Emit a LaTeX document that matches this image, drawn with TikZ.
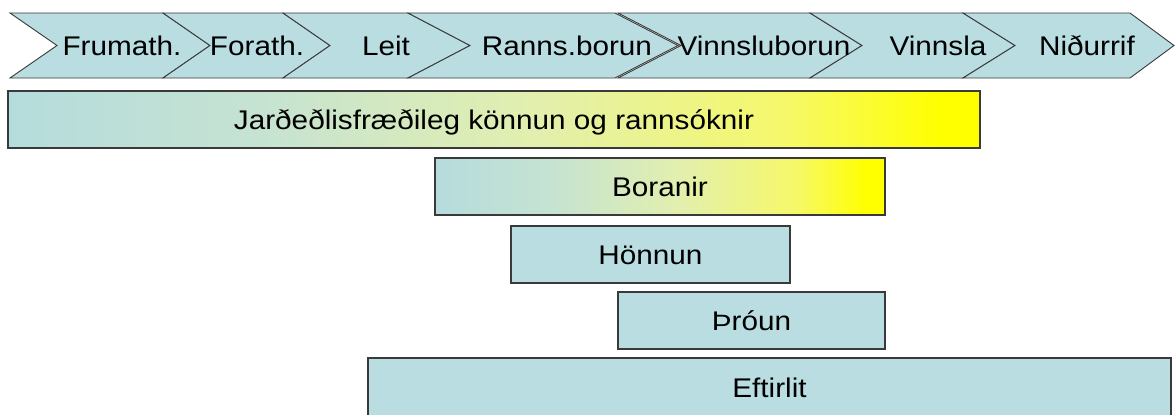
\documentclass[tikz,border=0pt]{standalone}
\usepackage{fontspec}
\setmainfont[FakeStretch=1.1]{Liberation Sans}
\definecolor{phase}{HTML}{B9DDE1}
\definecolor{edge}{HTML}{3A3A3A}
\definecolor{tealA}{HTML}{B5DCDC}
\definecolor{tealB}{HTML}{C6E3D2}
\definecolor{tealC}{HTML}{E2EFAE}
\definecolor{tealD}{HTML}{F6F86A}
\pgfdeclarehorizontalshading{tealyellow}{100bp}{color(0bp)=(tealA); color(25bp)=(tealA);
  color(38bp)=(tealB); color(52bp)=(tealC); color(65bp)=(tealD); color(73bp)=(yellow); color(100bp)=(yellow)}
\begin{document}
\begin{tikzpicture}[x=1pt,y=-1pt,
  chev/.style={fill=phase,draw=edge,line width=0.9pt,line join=miter},
  phasetext/.style={anchor=base,inner sep=0pt,font=\fontsize{27}{32}\selectfont},
  bar/.style={draw=edge,line width=1.3pt,fill=phase,inner sep=0pt,minimum height=57pt,
    text height=19pt,text depth=0pt,font=\fontsize{27}{32}\selectfont},
  gradbar/.style={bar,shading=tealyellow}]
\clip (0,0) rectangle (1176,415);
\fill[white] (0,0) rectangle (1176,415);

% chevron: left edge, right edge, notch depth, tip depth
\newcommand\chevron[4]{%
  \path[chev] (#1,13) -- (#2,13) -- ({#2+#4},45.5) -- (#2,78) -- (#1,78) -- ({#1+#3},45.5) -- cycle;}
\chevron{10}{163}{47}{47}
\chevron{163}{283}{47}{47}
\chevron{283}{408}{47}{62}
\chevron{408}{615}{62}{63}
\chevron{618}{810}{63}{52}
\chevron{810}{963}{52}{52}
\chevron{963}{1130}{52}{44}

\node[phasetext] (p1) at (122,55) {Frumath.};
\node[phasetext] (p2) at (257,55) {Forath.};
\node[phasetext] (p3) at (386,55) {Leit};
\node[phasetext] (p4) at (567,55) {Ranns.borun};
\node[phasetext] (p5) at (764,55) {Vinnsluborun};
\node[phasetext] (p6) at (938,55) {Vinnsla};
\node[phasetext] (p7) at (1087,55) {Niðurrif};

% activity bars
\node[gradbar,minimum width=972pt] (geo) at (494,119.5) {Jarðeðlisfræðileg könnun og rannsóknir};
\node[gradbar,minimum width=450pt] (bor) at (660,186.5) {Boranir};
\node[bar,minimum width=279pt] (hon) at (650.5,254.5) {Hönnun};
\node[bar,minimum width=267pt] (thr) at (751.5,320.5) {Þróun};
\node[bar,minimum width=803pt,minimum height=60pt] (eft) at (769.5,388) {Eftirlit};
\end{tikzpicture}
\end{document}
